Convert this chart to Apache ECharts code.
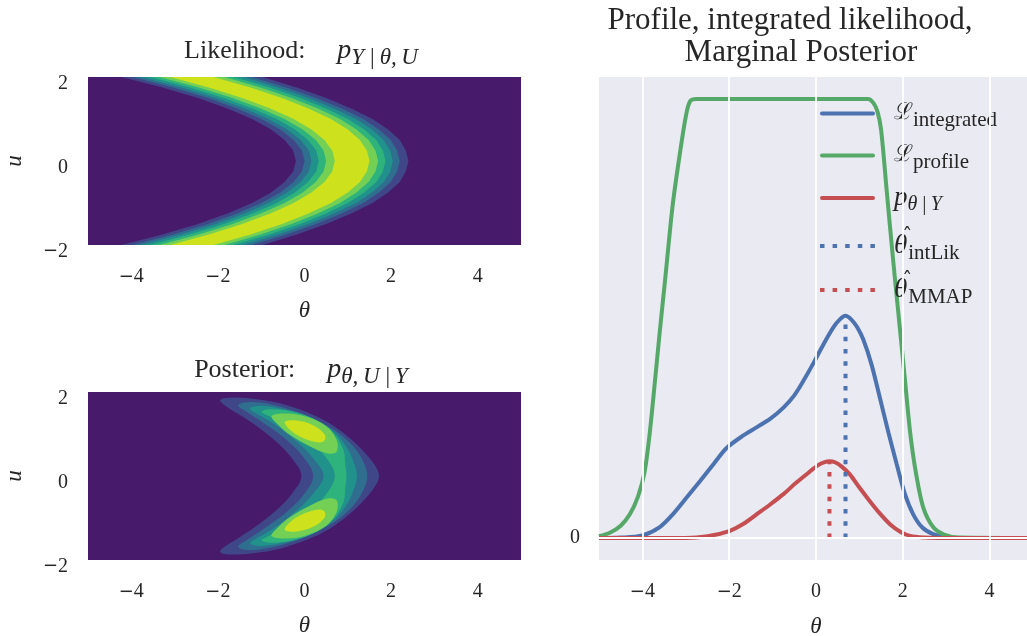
<!DOCTYPE html>
<html><head><meta charset="utf-8">
<script src="https://cdn.jsdelivr.net/npm/echarts@6/dist/echarts.min.js"></script>
<style>html,body{margin:0;padding:0;background:#fff}#c{width:1027px;height:636px}</style>
</head><body><div id="c"></div>
<script>
// ---------------- data ----------------
const thetaTicks = [-4, -2, 0, 2, 4];
const uTicks = [-2, 0, 2];
const rightYTicks = [0];

// Likelihood contour bands: ridge centre (theta) and band half-widths at u = 0..2 (symmetric in u)
const likU = [0, 0.25, 0.5, 0.75, 1, 1.25, 1.5, 1.75, 2];
const likCenter = [1.10, 1.04, 0.87, 0.58, 0.18, -0.35, -0.98, -1.73, -2.60];
const likHalf1 = [1.30, 1.30, 1.33, 1.35, 1.39, 1.43, 1.48, 1.55, 1.63];
const likHalf2 = [1.10, 1.10, 1.12, 1.14, 1.18, 1.21, 1.25, 1.31, 1.38];
const likHalf3 = [0.94, 0.94, 0.96, 0.98, 1.01, 1.03, 1.07, 1.12, 1.18];
const likHalf4 = [0.77, 0.77, 0.79, 0.80, 0.82, 0.85, 0.88, 0.92, 0.96];
const likHalf5 = [0.60, 0.60, 0.61, 0.62, 0.64, 0.66, 0.68, 0.71, 0.75];
const likHalf6 = [0.40, 0.40, 0.41, 0.42, 0.43, 0.44, 0.46, 0.48, 0.50];

// Posterior contour levels: upper half outline [theta, u] (inner side u=0 -> tip -> outer side u=0)
const post1 = [[-0.07,0],[-0.26,0.38],[-0.57,0.74],[-1.03,1.13],[-1.49,1.45],[-1.80,1.65],[-1.95,1.79],[-1.88,1.85],[-1.57,1.87],[-1.10,1.83],[-0.57,1.73],[0.05,1.52],[0.59,1.25],[1.05,0.90],[1.44,0.50],[1.67,0.18],[1.72,0]];
const post2 = [[0.20,0],[-0.03,0.46],[-0.41,0.86],[-0.87,1.21],[-1.34,1.53],[-1.53,1.67],[-1.41,1.75],[-1.03,1.75],[-0.41,1.61],[0.20,1.37],[0.74,1.06],[1.13,0.70],[1.36,0.34],[1.45,0]];
const post3 = [[0.44,0],[0.20,0.42],[-0.18,0.82],[-0.72,1.25],[-1.18,1.53],[-1.26,1.61],[-1.03,1.67],[-0.57,1.61],[0.05,1.43],[0.59,1.13],[0.94,0.74],[1.13,0.34],[1.21,0]];
const post4 = [[0.70,0],[0.51,0.42],[0.13,0.82],[-0.41,1.21],[-0.87,1.45],[-0.99,1.53],[-0.80,1.59],[-0.26,1.53],[0.28,1.33],[0.67,1.02],[0.90,0.62],[0.94,0.30],[0.97,0]];
// upper blobs (closed outlines)
const post5 = [[-0.76,1.43],[-0.41,1.49],[0.05,1.41],[0.51,1.18],[0.74,0.86],[0.74,0.58],[0.51,0.54],[0.13,0.70],[-0.34,0.98],[-0.64,1.25]];
const post6 = [[-0.45,1.29],[-0.18,1.32],[0.20,1.21],[0.47,0.98],[0.44,0.82],[0.20,0.82],[-0.18,0.98],[-0.41,1.18]];

const levelColors = ['#3f4788', '#2f6e8e', '#21918c', '#2eb37c', '#73d055', '#cde11d'];
const bgColor = '#481a6c';

// Right panel curves [theta, value]
const lIntegrated = [[-5,0],[-4.5,0.001],[-4.0,0.006],[-3.6,0.025],[-3.3,0.054],[-3.0,0.09],[-2.67,0.13],[-2.35,0.17],[-2.06,0.205],[-1.7,0.232],[-1.37,0.252],[-1.05,0.272],[-0.75,0.297],[-0.5,0.325],[-0.29,0.358],[-0.05,0.40],[0.17,0.441],[0.4,0.48],[0.55,0.498],[0.68,0.506],[0.82,0.497],[0.95,0.48],[1.09,0.452],[1.28,0.395],[1.47,0.32],[1.67,0.24],[1.86,0.168],[2.05,0.10],[2.24,0.054],[2.45,0.024],[2.7,0.009],[3.0,0.002],[3.5,0],[5,0]];
const lProfile = [[-5,0.004],[-4.75,0.012],[-4.5,0.028],[-4.29,0.054],[-4.1,0.095],[-3.95,0.15],[-3.83,0.24],[-3.71,0.358],[-3.6,0.47],[-3.48,0.585],[-3.3,0.76],[-3.13,0.88],[-3.0,0.96],[-2.9,0.995],[-2.75,1.0],[1.2,1.0],[1.33,0.99],[1.42,0.97],[1.5,0.93],[1.63,0.79],[1.78,0.63],[1.9,0.51],[2.05,0.36],[2.17,0.24],[2.3,0.15],[2.47,0.07],[2.7,0.025],[2.95,0.008],[3.3,0.001],[5,0]];
const pMarginal = [[-5,0],[-3,0],[-2.5,0.004],[-2.0,0.016],[-1.68,0.032],[-1.37,0.054],[-1.05,0.077],[-0.75,0.10],[-0.48,0.124],[-0.21,0.146],[0.05,0.166],[0.2,0.173],[0.31,0.175],[0.45,0.172],[0.6,0.162],[0.78,0.145],[1.0,0.115],[1.24,0.084],[1.48,0.055],[1.71,0.031],[1.95,0.014],[2.17,0.005],[2.5,0.001],[2.8,0],[5,0]];
const thetaIntLik = 0.68, intLikPeak = 0.506;
const thetaMMAP = 0.31, mmapPeak = 0.175;

// ---------------- build polygons ----------------
function likPolygon(half) {
  const us = [], cs = [], hs = [];
  for (let i = likU.length - 1; i > 0; i--) { us.push(-likU[i]); cs.push(likCenter[i]); hs.push(half[i]); }
  for (let i = 0; i < likU.length; i++) { us.push(likU[i]); cs.push(likCenter[i]); hs.push(half[i]); }
  const left = us.map((u, j) => [cs[j] - hs[j], u]);
  const right = us.map((u, j) => [cs[j] + hs[j], u]).reverse();
  return left.concat(right);
}
function mirrorHalf(upper) {
  const lower = upper.slice(1, -1).reverse().map(p => [p[0], -p[1]]);
  return upper.concat(lower);
}
function mirrorBlob(b) { return b.map(p => [p[0], -p[1]]).reverse(); }

const likPolys = [likHalf1, likHalf2, likHalf3, likHalf4, likHalf5, likHalf6]
  .map((h, k) => ({ pts: likPolygon(h), color: levelColors[k] }));
const postPolys = [
  { pts: mirrorHalf(post1), color: levelColors[0] },
  { pts: mirrorHalf(post2), color: levelColors[1] },
  { pts: mirrorHalf(post3), color: levelColors[2] },
  { pts: mirrorHalf(post4), color: levelColors[3] },
  { pts: post5, color: levelColors[4] },
  { pts: mirrorBlob(post5), color: levelColors[4] },
  { pts: post6, color: levelColors[5] },
  { pts: mirrorBlob(post6), color: levelColors[5] }
];

// ---------------- chart ----------------
const TXT = '#262626';
const SERIF = 'Liberation Serif';
const fmtTick = v => (v < 0 ? '{m|\u2212}' + (-v) : '' + v);
const tickRich = { m: { fontFamily: 'DejaVu Sans', fontSize: 18, color: TXT, padding: [0, 0, 0, 0] } };

function contourSeries(idx, polys, smooth) {
  return {
    type: 'custom', xAxisIndex: idx, yAxisIndex: idx, clip: true, silent: true,
    data: polys.map((p, i) => [p.pts[0][0], p.pts[0][1], i]),
    encode: { x: 0, y: 1 },
    renderItem: function (params, api) {
      const p = polys[api.value(2)];
      return { type: 'polygon', shape: { points: p.pts.map(q => api.coord(q)), smooth: smooth },
        style: { fill: p.color } };
    }
  };
}

function thetaAxis(gi, gap) {
  return {
    type: 'value', gridIndex: gi, min: -5, max: 5, interval: 1,
    axisLine: { show: false }, axisTick: { show: false }, splitLine: { show: false },
    axisLabel: { customValues: thetaTicks, formatter: v => thetaTicks.includes(v) ? fmtTick(v) : '',
      fontFamily: SERIF, fontSize: 20, color: TXT, margin: 22, rich: tickRich },
    name: 'θ', nameLocation: 'middle', nameGap: gap,
    nameTextStyle: { fontFamily: SERIF, fontStyle: 'italic', fontSize: 23, color: TXT }
  };
}
function uAxis(gi) {
  return {
    type: 'value', gridIndex: gi, min: -2, max: 2, interval: 2,
    axisLine: { show: false }, axisTick: { show: false }, splitLine: { show: false },
    axisLabel: { formatter: fmtTick, fontFamily: SERIF, fontSize: 20, color: TXT, margin: 20,
      padding: [13, 0, 0, 0], rich: tickRich },
    name: 'u', nameLocation: 'middle', nameGap: 62,
    nameTextStyle: { fontFamily: SERIF, fontStyle: 'italic', fontSize: 23, color: TXT }
  };
}

const legendRich = {
  L: { fontFamily: 'DejaVu Serif', fontSize: 23, color: TXT, verticalAlign: 'middle', lineHeight: 30 },
  P: { fontFamily: SERIF, fontStyle: 'italic', fontSize: 27, color: TXT, verticalAlign: 'middle', lineHeight: 30 },
  T: { fontFamily: SERIF, fontStyle: 'italic', fontSize: 27, color: TXT, verticalAlign: 'middle', lineHeight: 30 },
  H: { fontFamily: 'DejaVu Serif', fontSize: 20, color: TXT, width: 0, align: 'right', verticalAlign: 'middle', lineHeight: 14, padding: [0, 1, 16, 0] },
  s: { fontFamily: SERIF, fontSize: 21, color: TXT, verticalAlign: 'middle', lineHeight: 16, padding: [14, 0, 0, 0] },
  si: { fontFamily: SERIF, fontStyle: 'italic', fontSize: 20, color: TXT, verticalAlign: 'middle', lineHeight: 16, padding: [14, 0, 0, 0] }
};
const legendNames = ['Lint', 'Lprof', 'post', 'thInt', 'thMMAP'];
const legendText = {
  'Lint': '{L|ℒ}{s|integrated}',
  'Lprof': '{L|ℒ}{s|profile}',
  'post': '{P|p}{si|θ\u2009|\u2009Y}',
  'thInt': '{T|θ}{H|\u02c6}{s|intLik}',
  'thMMAP': '{T|θ}{H|\u02c6}{s|MMAP}'
};
const legendRowY = [113, 155, 198, 245, 289];
const solidIcon = 'path://M2,0H53A2,2 0 0 1 53,4H2A2,2 0 0 1 2,0Z';
const dotIcon = 'path://M0,0h4.5v4h-4.5zM12.6,0h4.5v4h-4.5zM25.2,0h4.5v4h-4.5zM37.8,0h4.5v4h-4.5zM50.4,0h4.5v4h-4.5z';

const titleRich = {
  r: { fontFamily: SERIF, fontSize: 26, fill: TXT, verticalAlign: 'middle', lineHeight: 30 },
  g: { fontSize: 26, width: 32, verticalAlign: 'middle', lineHeight: 30 },
  i: { fontFamily: SERIF, fontStyle: 'italic', fontSize: 28, fill: TXT, verticalAlign: 'middle', lineHeight: 30 },
  s: { fontFamily: SERIF, fontStyle: 'italic', fontSize: 23, fill: TXT, verticalAlign: 'middle', lineHeight: 16, padding: [14, 0, 0, 0] }
};

const option = {
  backgroundColor: '#ffffff',
  animation: false,
  grid: [
    { left: 88, top: 77, width: 433, height: 168, show: true, backgroundColor: bgColor, borderWidth: 0, outerBoundsMode: 'none', containLabel: false },
    { left: 88, top: 392, width: 433, height: 168, show: true, backgroundColor: bgColor, borderWidth: 0, outerBoundsMode: 'none', containLabel: false },
    { left: 599, top: 77, width: 434, height: 483, show: true, backgroundColor: '#eaeaf2', borderWidth: 0, outerBoundsMode: 'none', containLabel: false }
  ],
  xAxis: [thetaAxis(0, 54), thetaAxis(1, 54), thetaAxis(2, 55)],
  yAxis: [uAxis(0), uAxis(1), {
    type: 'value', gridIndex: 2, min: -0.05, max: 1.05, interval: 0.05,
    axisLine: { show: false }, axisTick: { show: false }, splitLine: { show: false },
    axisLabel: { customValues: rightYTicks, formatter: v => Math.abs(v) < 1e-9 ? '0' : '',
      fontFamily: SERIF, fontSize: 20, color: TXT, margin: 19, padding: [13, 0, 0, 0] }
  }],
  legend: legendNames.map((n, k) => ({
    orient: 'vertical', left: 815, top: legendRowY[k] - 22, itemWidth: 55, itemHeight: 4, itemGap: 0,
    data: [{ name: n, icon: k < 3 ? solidIcon : dotIcon }],
    formatter: nm => legendText[nm],
    textStyle: { rich: legendRich, padding: [0, 0, 0, 14], height: 30, lineHeight: 30 },
    selectedMode: false
  })),
  graphic: [
    { type: 'text', x: 301, y: 51, style: { text: '{r|Likelihood:}{g| }{i|p}{s|Y\u2009|\u2009θ,\u2009U}', rich: titleRich, align: 'center', verticalAlign: 'middle' } },
    { type: 'text', x: 301, y: 370, style: { text: '{r|Posterior:}{g| }{i|p}{s|θ,\u2009U\u2009|\u2009Y}', rich: titleRich, align: 'center', verticalAlign: 'middle' } },
    { type: 'text', x: 790, y: 21, style: { text: 'Profile, integrated likelihood,', font: '31px "Liberation Serif"', fill: TXT, align: 'center', verticalAlign: 'middle' } },
    { type: 'text', x: 801, y: 53, style: { text: 'Marginal Posterior', font: '31px "Liberation Serif"', fill: TXT, align: 'center', verticalAlign: 'middle' } }
  ],
  series: [
    contourSeries(0, likPolys, 0),
    contourSeries(1, postPolys, 0.35),
    {
      type: 'line', xAxisIndex: 2, yAxisIndex: 2, data: [], silent: true, z: 1,
      markLine: {
        silent: true, symbol: 'none', label: { show: false },
        lineStyle: { color: '#ffffff', width: 1.8, type: 'solid' },
        data: thetaTicks.map(t => ({ xAxis: t })).concat(rightYTicks.map(t => ({ yAxis: t })))
      }
    },
    { name: 'Lint', type: 'line', xAxisIndex: 2, yAxisIndex: 2, data: lIntegrated, symbol: 'none', smooth: 0.3,
      lineStyle: { color: '#4c72b0', width: 4 }, itemStyle: { color: '#4c72b0' } },
    { name: 'Lprof', type: 'line', xAxisIndex: 2, yAxisIndex: 2, data: lProfile, symbol: 'none', smooth: 0.3,
      lineStyle: { color: '#55a868', width: 4 }, itemStyle: { color: '#55a868' } },
    { name: 'post', type: 'line', xAxisIndex: 2, yAxisIndex: 2, data: pMarginal, symbol: 'none', smooth: 0.3,
      lineStyle: { color: '#c44e52', width: 4 }, itemStyle: { color: '#c44e52' } },
    { name: 'thInt', type: 'line', xAxisIndex: 2, yAxisIndex: 2, data: [[thetaIntLik, 0], [thetaIntLik, intLikPeak]], symbol: 'none',
      lineStyle: { color: '#4c72b0', width: 4, type: [4.5, 7.8] }, itemStyle: { color: '#4c72b0' } },
    { name: 'thMMAP', type: 'line', xAxisIndex: 2, yAxisIndex: 2, data: [[thetaMMAP, 0], [thetaMMAP, mmapPeak]], symbol: 'none',
      lineStyle: { color: '#c44e52', width: 4, type: [4.5, 7.8] }, itemStyle: { color: '#c44e52' } }
  ]
};
const chart = echarts.init(document.getElementById('c'), null, { renderer: 'canvas' });
chart.setOption(option);
</script></body></html>
